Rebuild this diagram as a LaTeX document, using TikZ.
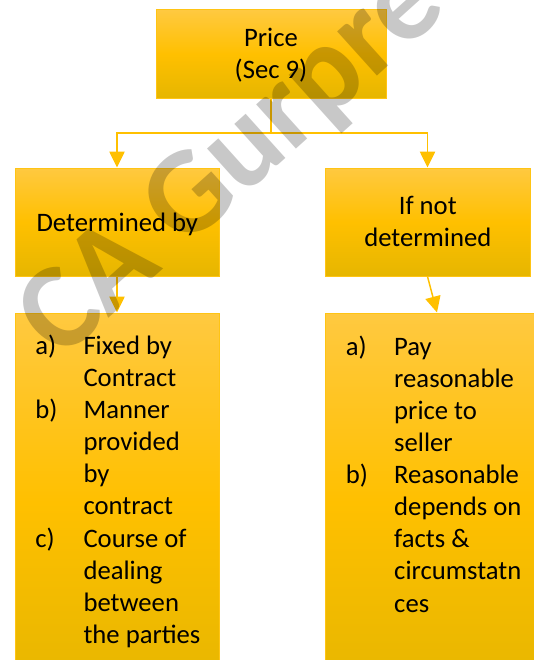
\documentclass[tikz,border=0pt]{standalone}
\usepackage{fontspec}
\setmainfont{Carlito}
\usetikzlibrary{arrows.meta}
\definecolor{boxtop}{RGB}{255,201,64}
\definecolor{boxmid}{RGB}{255,192,0}
\definecolor{boxbot}{RGB}{230,182,0}
\definecolor{boxedge}{RGB}{255,196,20}
\definecolor{linkcol}{RGB}{255,192,0}
\definecolor{markgray}{RGB}{200,200,200}
\newcommand{\boxfont}{\fontsize{20pt}{24.1pt}\selectfont}
\begin{document}
\begin{tikzpicture}[x=0.75pt,y=-0.75pt,
  goldbox/.style={draw=boxedge,line width=0.75pt,rectangle,inner sep=0pt,
    top color=boxtop,bottom color=boxbot,middle color=boxmid},
  boxtext/.style={inner sep=0pt,text=black,font=\boxfont},
  link/.style={draw=linkcol,line width=1.1pt,
    -{Triangle[width=11.5pt,length=12pt]}}]
\useasboundingbox (0,0) rectangle (533,660);

% boxes
\node[goldbox,minimum width=172.5pt,minimum height=66pt] (price) at (271,54) {};
\node[goldbox,minimum width=153pt,minimum height=81pt] (det) at (117,222) {};
\node[goldbox,minimum width=153.75pt,minimum height=81pt] (notdet) at (427.5,222) {};
\node[goldbox,minimum width=153pt,minimum height=282.75pt] (detlist) at (117,501.5) {};
\node[goldbox,minimum width=168pt,minimum height=282.75pt] (notlist) at (437,501.5) {};

% box texts
\node[boxtext,anchor=base] (pricetxt) at (271,46.7)
  {\begin{tabular}[t]{@{}c@{}}Price\\(Sec 9)\end{tabular}};
\node[boxtext,anchor=base] (dettxt) at (117.3,231) {Determined by};
\node[boxtext,anchor=base] (notdettxt) at (427.8,214.3)
  {\begin{tabular}[t]{@{}c@{}}If not\\determined\end{tabular}};
\node[boxtext,anchor=base west] (detlisttxt) at (35,354.3)
  {\begin{tabular}[t]{@{}p{36.2pt}@{}l@{}}
   a) & Fixed by\\ & Contract\\
   b) & Manner\\ & provided\\ & by\\ & contract\\
   c) & Course of\\ & dealing\\ & between\\ & the parties
   \end{tabular}};
\node[boxtext,anchor=base west] (notlisttxt) at (345.7,355)
  {\begin{tabular}[t]{@{}p{36.2pt}@{}l@{}}
   a) & Pay\\ & reasonable\\ & price to\\ & seller\\
   b) & Reasonable\\ & depends on\\ & facts \&\\ & circumstatn\\ & ces
   \end{tabular}};

% connectors
\coordinate (fork) at (271,133);
\draw[link] (price.south) -- (fork) -| (det.north);
\draw[link] (fork) -| (notdet.north);
\draw[link] (det.south) -- (detlist.north);
\draw[link] (notdet.south) -- (notlist.north);

% watermark
\begin{scope}[blend mode=multiply]
\node[anchor=base west,inner sep=0pt,rotate=42,text=markgray,
  font=\fontsize{92pt}{92pt}\selectfont\bfseries] (mark) at (60,362) {CA Gurpre};
\end{scope}
\end{tikzpicture}
\end{document}
